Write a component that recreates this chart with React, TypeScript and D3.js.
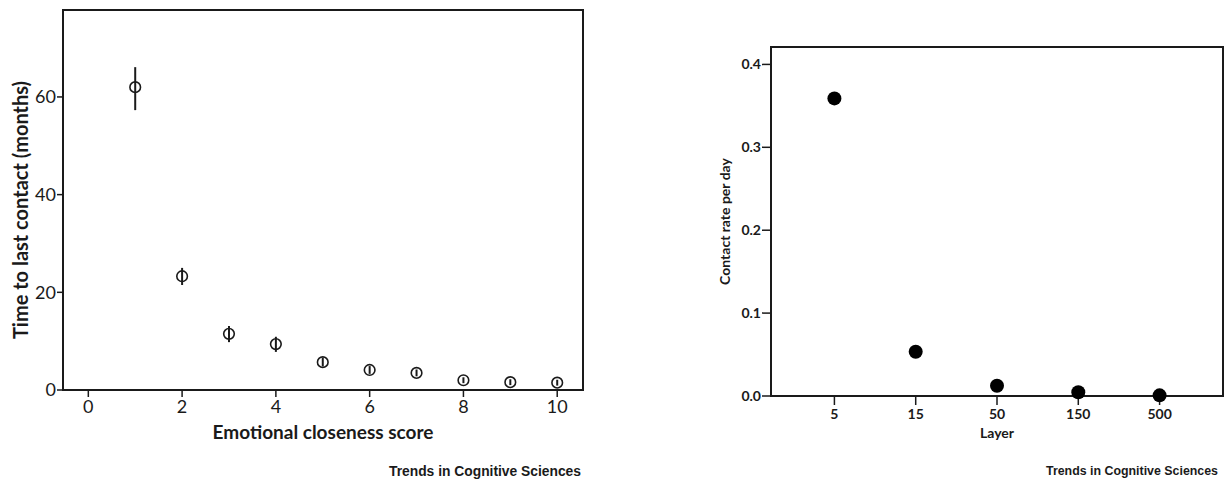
import React from 'react';
import * as d3 from 'd3';

// Left panel: time to last contact by emotional closeness
const closeness = [1, 2, 3, 4, 5, 6, 7, 8, 9, 10];
const meanMonths = [62.0, 23.3, 11.5, 9.4, 5.7, 4.1, 3.5, 2.0, 1.6, 1.5];
const errLow = [57.3, 21.5, 9.8, 7.8, 4.8, 3.3, 2.8, 1.4, 1.0, 0.9];
const errHigh = [66.1, 25.0, 13.1, 10.9, 6.6, 4.9, 4.2, 2.6, 2.2, 2.1];
const leftXTicks = [0, 2, 4, 6, 8, 10];
const leftYTicks = [0, 20, 40, 60];

// Right panel: contact rate by layer
const layers = ['5', '15', '50', '150', '500'];
const contactRate = [0.359, 0.0534, 0.0124, 0.0045, 0.0008];
const rightYTicks = [0, 0.1, 0.2, 0.3, 0.4];

const credit = 'Trends in Cognitive Sciences';
const FONT = 'Lato, "Noto Sans", sans-serif';
const INK = '#1a1a1a';

const LeftPanel = () => {
  const left = 63, right = 583, top = 10, bottom = 390;
  const x = d3.scaleLinear().domain([-0.54, 10.55]).range([left, right]);
  const y = d3.scaleLinear().domain([0, 77.8]).range([bottom, top]);
  return (
    <g>
      <rect x={left} y={top} width={right - left} height={bottom - top}
        fill="none" stroke={INK} strokeWidth={2} />
      {leftYTicks.map(t => (
        <g key={'ly' + t}>
          <line x1={left - 6} x2={left} y1={y(t)} y2={y(t)} stroke={INK} strokeWidth={1.5} />
          <text x={left - 7} y={y(t)} dy="0.35em" textAnchor="end"
            fontSize={18} fill={INK}>{t}</text>
        </g>
      ))}
      {leftXTicks.map(t => (
        <g key={'lx' + t}>
          <line x1={x(t)} x2={x(t)} y1={bottom} y2={bottom + 7} stroke={INK} strokeWidth={1.5} />
          <text x={x(t)} y={bottom + 23} textAnchor="middle" fontSize={18} fill={INK}>{t}</text>
        </g>
      ))}
      {closeness.map((c, i) => (
        <g key={'pt' + c}>
          <line x1={x(c)} x2={x(c)} y1={y(errLow[i])} y2={y(errHigh[i])}
            stroke={INK} strokeWidth={2} />
          <circle cx={x(c)} cy={y(meanMonths[i])} r={5.3}
            fill="none" stroke={INK} strokeWidth={1.6} />
        </g>
      ))}
      <text transform={`translate(28,${(top + bottom) / 2 + 10}) rotate(-90)`}
        textAnchor="middle" fontSize={20} fontWeight="bold" fill={INK}>
        Time to last contact (months)
      </text>
      <text x={(left + right) / 2} y={439} textAnchor="middle"
        fontSize={19} fontWeight="bold" fill={INK}>Emotional closeness score</text>
      <text x={389} y={476} textLength={192} lengthAdjust="spacingAndGlyphs"
        fontFamily='"Liberation Sans", Arial, sans-serif' fontSize={14}
        fontWeight="bold" fill={INK}>{credit}</text>
    </g>
  );
};

const RightPanel = () => {
  const left = 771, right = 1223, top = 47, bottom = 396;
  const x = d3.scalePoint<string>().domain(layers).range([left, right]).padding(0.78);
  const y = d3.scaleLinear().domain([0, 0.421]).range([bottom, top]);
  const fmt = d3.format('.1f');
  return (
    <g>
      <rect x={left} y={top} width={right - left} height={bottom - top}
        fill="none" stroke={INK} strokeWidth={2} />
      {rightYTicks.map(t => (
        <g key={'ry' + t}>
          <line x1={left - 9} x2={left} y1={y(t)} y2={y(t)} stroke={INK} strokeWidth={1.5} />
          <text x={left - 10} y={y(t)} dy="0.35em" textAnchor="end"
            fontSize={14} fontWeight="bold" fill={INK}>{fmt(t)}</text>
        </g>
      ))}
      {layers.map(l => (
        <g key={'rx' + l}>
          <line x1={x(l)} x2={x(l)} y1={bottom} y2={bottom + 9} stroke={INK} strokeWidth={1.5} />
          <text x={x(l)} y={bottom + 23} textAnchor="middle"
            fontSize={14} fontWeight="bold" fill={INK}>{l}</text>
        </g>
      ))}
      {layers.map((l, i) => (
        <circle key={'dot' + l} cx={x(l)} cy={y(contactRate[i])} r={7} fill="#000" />
      ))}
      <text transform={`translate(730,${(top + bottom) / 2}) rotate(-90)`}
        textAnchor="middle" fontSize={14} fontWeight="bold" fill={INK}>
        Contact rate per day
      </text>
      <text x={(left + right) / 2} y={438} textAnchor="middle"
        fontSize={14} fontWeight="bold" fill={INK}>Layer</text>
      <text x={1046} y={475} textLength={172} lengthAdjust="spacingAndGlyphs"
        fontFamily='"Liberation Sans", Arial, sans-serif' fontSize={13}
        fontWeight="bold" fill={INK}>{credit}</text>
    </g>
  );
};

export default function App() {
  return (
    <svg width={1226} height={483} fontFamily={FONT}
      style={{ position: 'absolute', left: 0, top: 0, background: '#fff' }}>
      <rect width={1226} height={483} fill="#fff" />
      <LeftPanel />
      <RightPanel />
    </svg>
  );
}
